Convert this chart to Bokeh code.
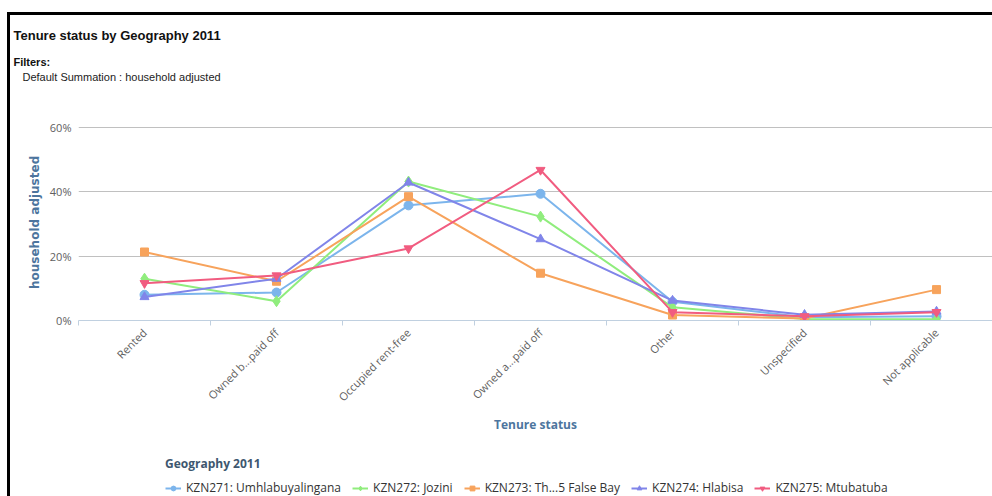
from bokeh.plotting import figure
from bokeh.models import (Range1d, FixedTicker, Legend, LegendItem, Title)
from bokeh.layouts import column
from bokeh.embed import file_html
from bokeh.resources import INLINE

# Tenure status categories (x axis) and share of households per municipality (%)
categories = ["Rented", "Owned b...paid off", "Occupied rent-free", "Owned a...paid off",
              "Other", "Unspecified", "Not applicable"]

series_names = ["KZN271: Umhlabuyalingana", "KZN272: Jozini", "KZN273: Th...5 False Bay",
                "KZN274: Hlabisa", "KZN275: Mtubatuba"]

kzn271 = [8.0, 8.7, 35.8, 39.4, 5.8, 1.0, 1.3]
kzn272 = [13.0, 6.0, 43.2, 32.3, 4.1, 0.5, 0.4]
kzn273 = [21.3, 12.2, 38.5, 14.7, 1.7, 0.6, 9.6]
kzn274 = [7.3, 13.0, 42.9, 25.3, 6.2, 1.8, 2.8]
kzn275 = [11.6, 14.0, 22.4, 46.8, 2.6, 1.3, 2.6]

y_ticks = [0, 20, 40, 60]

colors = ["#7cb5ec", "#90ed7d", "#f7a35c", "#8085e9", "#f15c80"]
markers = ["circle", "diamond", "square", "triangle", "inverted_triangle"]
marker_sizes = [9, 11, 8, 9, 9]
values = [kzn271, kzn272, kzn273, kzn274, kzn275]

# category centres sit between the boundary ticks
centers = [i + 0.5 for i in range(len(categories))]

FONT = "Open Sans"

p = figure(width=982, height=421, output_backend="svg", toolbar_location=None,
           x_range=Range1d(0, 6.924), y_range=Range1d(0, 74.0),
           min_border_left=68, min_border_right=0, min_border_top=0, min_border_bottom=0)
p.outline_line_color = None
p.background_fill_color = "white"
p.border_fill_color = "white"

# header texts (later additions sit further out)
p.add_layout(Title(text="Default Summation : household adjusted", align="left", offset=-56,
                   text_font="Liberation Sans", text_font_size="11px",
                   text_font_style="normal", text_color="#222222", standoff=0), "above")
p.add_layout(Title(text="Filters:", align="left", offset=-65,
                   text_font="Liberation Sans", text_font_size="11px",
                   text_font_style="bold", text_color="#111111", standoff=2), "above")
p.add_layout(Title(text="Tenure status by Geography 2011", align="left", offset=-65,
                   text_font="Liberation Sans", text_font_size="13px",
                   text_font_style="bold", text_color="#111111", standoff=20), "above")

for vals, c, m, s in zip(values, colors, markers, marker_sizes):
    p.line(centers, vals, line_color=c, line_width=2)
    p.scatter(centers, vals, marker=m, size=s, fill_color=c, line_color=c)

# x axis: labels at centres, ticks on the category boundaries
xa = p.xaxis[0]
xa.ticker = FixedTicker(ticks=centers, minor_ticks=list(range(len(categories) + 1)))
xa.major_label_overrides = {c: lab for c, lab in zip(centers, categories)}
xa.major_tick_out = 0
xa.major_tick_in = 0
xa.minor_tick_out = 5
xa.minor_tick_in = 0
xa.minor_tick_line_color = "#c0d0e0"
xa.axis_line_color = "#c0d0e0"
xa.major_label_orientation = 0.785398
xa.major_label_text_font = FONT
xa.major_label_text_font_size = "11px"
xa.major_label_text_color = "#606060"
xa.axis_label = "Tenure status"
xa.axis_label_text_font = FONT
xa.axis_label_text_font_size = "12px"
xa.axis_label_text_font_style = "bold"
xa.axis_label_text_color = "#4d759e"
xa.axis_label_standoff = 4

ya = p.yaxis[0]
ya.ticker = FixedTicker(ticks=y_ticks)
ya.major_label_overrides = {t: f"{t}%" for t in y_ticks}
ya.axis_line_color = None
ya.major_tick_line_color = None
ya.minor_tick_line_color = None
ya.major_label_text_font = FONT
ya.major_label_text_font_size = "11px"
ya.major_label_text_color = "#606060"
ya.major_label_standoff = 1
# trailing no-break spaces keep the title centred on the 0-60% band
ya.axis_label = "household adjusted" + "\u00a0" * 10
ya.axis_label_text_font = "DejaVu Sans"
ya.axis_label_text_font_size = "12px"
ya.axis_label_text_font_style = "bold"
ya.axis_label_text_color = "#4d759e"
ya.axis_label_standoff = 5

p.xgrid.grid_line_color = None
p.ygrid.grid_line_color = "#c0c0c0"
p.ygrid.grid_line_width = 1

# legend strip underneath the chart; its series are kept out of view
lg = figure(width=982, height=60, output_backend="svg", toolbar_location=None,
            x_range=Range1d(-20, -10), y_range=Range1d(-20, -10),
            min_border_left=0, min_border_right=0, min_border_top=0, min_border_bottom=0)
lg.axis.visible = False
lg.grid.visible = False
lg.outline_line_color = None
lg.border_fill_color = "white"

items = []
for name, vals, c, m, s in zip(series_names, values, colors, markers, marker_sizes):
    ln = lg.line(centers, vals, line_color=c, line_width=2)
    sc = lg.scatter(centers, vals, marker=m, size=s - 1, fill_color=c, line_color=c)
    items.append(LegendItem(label=name, renderers=[ln, sc]))

legend = Legend(items=items, orientation="horizontal", location=(87, 0),
                title="Geography 2011", title_text_font=FONT, title_text_font_size="12px",
                title_text_font_style="bold", title_text_color="#3e576f", title_standoff=7,
                label_text_font=FONT, label_text_font_size="12px", label_text_color="#333333",
                glyph_width=16, glyph_height=12, label_standoff=5, spacing=11,
                padding=0, margin=0, border_line_color=None, background_fill_alpha=0)
lg.add_layout(legend)

root = column(p, lg, spacing=0, margin=(12, 0, 0, 7),
              styles={"border-left": "3px solid #000", "border-top": "3px solid #000"})

open("out.html", "w").write(file_html(root, INLINE))
